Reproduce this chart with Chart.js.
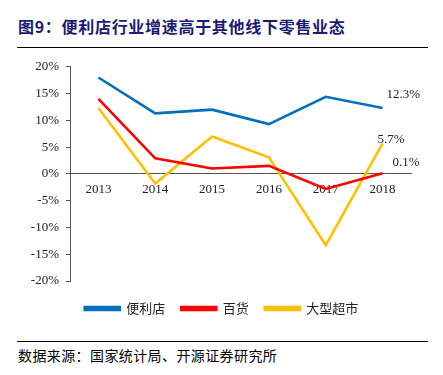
<!DOCTYPE html>
<html>
<head>
<meta charset="utf-8">
<script src="https://cdn.jsdelivr.net/npm/chart.js@4/dist/chart.umd.min.js"></script>
<style>
  body { margin: 0; background: #fff; width: 443px; height: 375px; position: relative; overflow: hidden; }
  #title { position: absolute; left: 18px; top: 14px; font: bold 16px "Noto Sans CJK SC", sans-serif; color: #1a1a78; white-space: nowrap; letter-spacing: 0.7px; }
  .rule { position: absolute; left: 17px; width: 411px; height: 1px; background: #000; }
  #source { position: absolute; left: 18px; top: 345px; font: 14px "Noto Sans CJK SC", sans-serif; color: #000; white-space: nowrap; letter-spacing: 0.4px; }
  #wrap { position: absolute; left: 0; top: 52px; width: 443px; height: 273px; }
</style>
</head>
<body>
<div id="title">图9：便利店行业增速高于其他线下零售业态</div>
<div class="rule" style="top:47px"></div>
<div id="wrap"><canvas id="lineChart"></canvas></div>
<div class="rule" style="top:341px"></div>
<div id="source">数据来源：国家统计局、开源证券研究所</div>
<script>
// chart data
var years = ['2013', '2014', '2015', '2016', '2017', '2018'];
var convenience = [18.0, 11.3, 12.0, 9.3, 14.4, 12.3];
var department = [14.0, 2.9, 1.0, 1.5, -2.8, 0.1];
var hypermarket = [12.3, -1.8, 7.0, 3.1, -13.3, 5.7];
var seriesNames = ['便利店', '百货', '大型超市'];
var colors = ['#0070C0', '#FF0000', '#FFC000'];
var yTicks = [-20, -15, -10, -5, 0, 5, 10, 15, 20];

// label on the last point of each line
var lastLabels = {
    id: 'lastLabels',
    afterDatasetsDraw: function (chart) {
        var ctx = chart.ctx;
        var offsets = [[4, -13], [10, -11], [-5, -4]];
        ctx.save();
        ctx.font = '13px "Liberation Serif", serif';
        ctx.fillStyle = '#222';
        ctx.textBaseline = 'middle';
        chart.data.datasets.forEach(function (ds, i) {
            var pts = chart.getDatasetMeta(i).data;
            var p = pts[pts.length - 1];
            var v = ds.data[ds.data.length - 1];
            ctx.fillText(v.toFixed(1) + '%', p.x + offsets[i][0], p.y + offsets[i][1]);
        });
        ctx.restore();
    }
};

// empty axes that only reserve room
function spacer(pos, size) {
    return {
        type: 'linear',
        position: pos,
        display: true,
        grid: { display: false },
        border: { display: false },
        ticks: { display: false },
        afterFit: function (s) {
            if (pos === 'right') s.width = size; else s.height = size;
        }
    };
}

var ctx = document.getElementById('lineChart').getContext('2d');
var lineChart = new Chart(ctx, {
    type: 'line',
    data: {
        labels: years,
        datasets: [convenience, department, hypermarket].map(function (d, i) {
            return {
                label: seriesNames[i],
                data: d,
                borderColor: colors[i],
                backgroundColor: colors[i],
                borderWidth: 2.6,
                pointRadius: 0,
                tension: 0,
                fill: false
            };
        })
    },
    options: {
        responsive: true,
        maintainAspectRatio: false,
        animation: false,
        layout: { padding: { top: 10, right: 0, left: 0, bottom: 0 } },
        plugins: {
            tooltip: { enabled: false },
            legend: {
                position: 'bottom',
                labels: {
                    boxWidth: 35,
                    boxHeight: 3,
                    padding: 16,
                    color: '#222',
                    font: { family: '"Noto Sans CJK SC", sans-serif', size: 13 }
                }
            }
        },
        scales: {
            x: {
                type: 'category',
                offset: true,
                position: { y: 0 },
                border: { color: '#555', width: 1 },
                grid: { display: true, offset: true, drawOnChartArea: false, drawTicks: true, tickLength: 0, color: '#555' },
                ticks: { padding: 8, color: '#222', font: { family: '"Liberation Serif", serif', size: 13 } }
            },
            y: {
                min: -20,
                max: 20,
                afterFit: function (s) { s.width = 70; },
                afterBuildTicks: function (s) { s.ticks = yTicks.map(function (v) { return { value: v }; }); },
                border: { color: '#555', width: 1 },
                grid: { display: true, drawOnChartArea: false, drawTicks: true, tickLength: 4, color: '#555' },
                ticks: {
                    padding: 7,
                    color: '#222',
                    font: { family: '"Liberation Serif", serif', size: 13 },
                    callback: function (v) { return v + '%'; }
                }
            },
            yPad: spacer('right', 32),
            xPad: spacer('bottom', 5)
        }
    },
    plugins: [lastLabels]
});
</script>
</body>
</html>
